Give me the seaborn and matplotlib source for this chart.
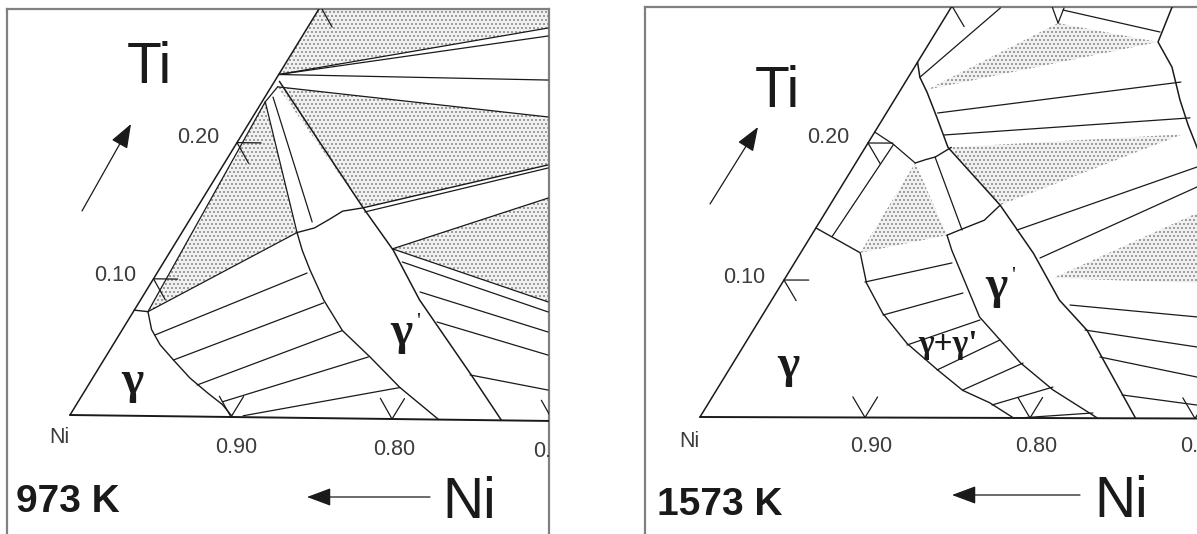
import numpy as np
import matplotlib
matplotlib.use("Agg")
import matplotlib.pyplot as plt
from matplotlib.transforms import Affine2D
from matplotlib.patches import Polygon
import seaborn as sns

sns.set_theme(style="white")
plt.rcParams["font.family"] = ["Liberation Sans", "DejaVu Sans"]
plt.rcParams["hatch.linewidth"] = 0.9
plt.rcParams["hatch.color"] = "#8a8a8a"

# ------------------------------------------------------------------
# DATA : compositions as (x_Al, x_Ti) mole fractions, x_Ni = 1 - x_Al - x_Ti
# ------------------------------------------------------------------
ni_ticks = [0.90, 0.80, 0.70]
ti_ticks = [0.10, 0.20, 0.30]
ni_tick_labels = ["0.90", "0.80", "0.70"]
ti_tick_labels = ["0.10", "0.20"]

# ---------- 973 K ----------
k973_gamma_al = [0.000, 0.009, 0.018, 0.029, 0.043, 0.060, 0.077, 0.090, 0.101]
k973_gamma_ti = [0.077, 0.076, 0.063, 0.052, 0.041, 0.028, 0.017, 0.009, 0.000]
k973_gp_left_al = [0.071, 0.081, 0.093, 0.113, 0.136, 0.163, 0.193, 0.229]
k973_gp_left_ti = [0.135, 0.122, 0.108, 0.086, 0.064, 0.045, 0.023, 0.000]
k973_gp_right_al = [0.003, 0.102, 0.137, 0.172, 0.232, 0.268]
k973_gp_right_ti = [0.245, 0.154, 0.123, 0.087, 0.033, 0.000]
k973_gp_top_al = [0.071, 0.080, 0.086, 0.091, 0.102, 0.200]
k973_gp_top_ti = [0.135, 0.1385, 0.145, 0.151, 0.1535, 0.1865]
k973_tie_lines = [
    ((0.009, 0.076), (0.071, 0.135)),
    ((0.022, 0.059), (0.0925, 0.1056)),
    ((0.043, 0.041), (0.114, 0.084)),
    ((0.067, 0.023), (0.136, 0.064)),
    ((0.089, 0.011), (0.162, 0.045)),
    ((0.107, 0.001), (0.193, 0.023)),
    ((0.009, 0.076), (0.002, 0.230)),
    ((0.002, 0.230), (0.071, 0.135)),
    ((0.005, 0.2335), (0.0763, 0.1429)),
    ((0.002, 0.230), (0.004, 0.241)),
    ((0.105, 0.1506), (0.2013, 0.1843)),
    ((0.000, 0.250), (0.1484, 0.2863)),
    ((0.000, 0.250), (0.1515, 0.2805)),
    ((0.000, 0.250), (0.1681, 0.2484)),
    ((0.004, 0.241), (0.182, 0.2215)),
    ((0.136, 0.124), (0.2127, 0.1624)),
    ((0.136, 0.124), (0.252, 0.0867)),
    ((0.147, 0.1145), (0.2558, 0.0794)),
    ((0.1693, 0.0928), (0.2633, 0.0648)),
    ((0.1911, 0.0711), (0.272, 0.048)),
    ((0.2315, 0.0328), (0.2853, 0.0225)),
]
k973_three_phase = [
    [(0.009, 0.076), (0.002, 0.230), (0.071, 0.135)],
    [(0.004, 0.241), (0.182, 0.2215), (0.200, 0.1865), (0.1024, 0.1535)],
    [(0.000, 0.250), (0.000, 0.330), (0.200, 0.330), (0.1484, 0.2863)],
    [(0.136, 0.124), (0.2127, 0.1624), (0.252, 0.0867)],
]

# ---------- 1573 K ----------
k1573_gamma_al = [0.000, 0.036, 0.051, 0.072, 0.098, 0.126, 0.149, 0.170, 0.190]
k1573_gamma_ti = [0.138, 0.120, 0.098, 0.076, 0.054, 0.035, 0.020, 0.011, 0.000]
k1573_gp_left_al = [0.082, 0.0905, 0.132, 0.174, 0.2035, 0.241]
k1573_gp_left_ti = [0.133, 0.122, 0.0735, 0.040, 0.0205, 0.000]
k1573_gp_right_al = [0.000, 0.007, 0.017, 0.032, 0.050, 0.103, 0.141, 0.174, 0.202, 0.264]
k1573_gp_right_ti = [0.259, 0.248, 0.237, 0.219, 0.197, 0.155, 0.120, 0.086, 0.064, 0.000]
k1573_upper_al = [0.036, 0.041, 0.046, 0.052]
k1573_upper_ti = [0.1855, 0.188, 0.190, 0.197]
k1573_lower_al = [0.082, 0.088, 0.099, 0.103]
k1573_lower_ti = [0.133, 0.137, 0.144, 0.155]
k1573_outer_al = [0.1335, 0.138, 0.1557, 0.1728, 0.187, 0.2053]
k1573_outer_ti = [0.2998, 0.2742, 0.256, 0.232, 0.2138, 0.192]
k1573_tie_lines = [
    ((0.0497, 0.0987), (0.0953, 0.1128)),
    ((0.0729, 0.0747), (0.1131, 0.0909)),
    ((0.0985, 0.0529), (0.1334, 0.0713)),
    ((0.126, 0.0348), (0.1529, 0.0568)),
    ((0.149, 0.0203), (0.1754, 0.040)),
    ((0.1722, 0.0094), (0.2024, 0.0226)),
    ((0.1936, 0.000), (0.2362, 0.0038)),
    ((0.013, 0.132), (0.016, 0.199)),
    ((0.000, 0.208), (0.016, 0.199)),
    ((0.016, 0.199), (0.036, 0.1855)),
    ((0.0457, 0.190), (0.0892, 0.1368)),
    ((0.007, 0.248), (0.030, 0.2987)),
    ((0.0705, 0.2878), (0.061, 0.2995)),
    ((0.0705, 0.2878), (0.0685, 0.2988)),
    ((0.0687, 0.2973), (0.1355, 0.2815)),
    ((0.031, 0.222), (0.1667, 0.2451)),
    ((0.043, 0.206), (0.1855, 0.219)),
    ((0.1224, 0.1369), (0.2079, 0.1832)),
    ((0.1467, 0.1166), (0.2154, 0.1687)),
    ((0.1823, 0.0824), (0.2636, 0.074)),
    ((0.2007, 0.0642), (0.2747, 0.0521)),
    ((0.2197, 0.0446), (0.2858, 0.0302)),
    ((0.2471, 0.017), (0.2962, 0.0098)),
]
k1573_three_phase = [
    [(0.036, 0.120), (0.036, 0.1855), (0.082, 0.133)],
    [(0.016, 0.239), (0.0705, 0.2878), (0.138, 0.2742)],
    [(0.051, 0.197), (0.187, 0.207), (0.103, 0.155)],
    [(0.162, 0.102), (0.225, 0.1497), (0.251, 0.0987)],
]


# ------------------------------------------------------------------
DPI = 96
S = 100.0 / DPI            # keeps sizes as if drawn at 100 dpi
W, H = 1197.0, 534.0
fig = plt.figure(figsize=(W / DPI, H / DPI), dpi=DPI)


def make_panel(x0, x1, y0, y1, right_spine):
    ax = fig.add_axes([x0 / W, 1 - y1 / H, (x1 - x0) / W, (y1 - y0) / H])
    ax.set_xlim(x0, x1)
    ax.set_ylim(y1, y0)
    ax.set_xticks([])
    ax.set_yticks([])
    ax.set_facecolor("white")
    for s in ["left", "top", "right", "bottom"]:
        ax.spines[s].set_visible(False)
    for s in ["left", "top"] + (["right"] if right_spine else []):
        ax.spines[s].set_visible(True)
        ax.spines[s].set_color("#808080")
        ax.spines[s].set_linewidth(1.6 * S)
    return ax


def ternary(ax, origin, a_vec, b_vec):
    m = np.array([[a_vec[0], b_vec[0], origin[0]],
                  [a_vec[1], b_vec[1], origin[1]],
                  [0.0, 0.0, 1.0]])
    return Affine2D(m) + ax.transData


def draw_panel(ax, tr, curves, ties, polys):
    for pts in polys:
        ax.add_patch(Polygon(pts, closed=True, transform=tr, facecolor="#f1f1f1",
                             edgecolor="#8a8a8a", lw=0, hatch="....", zorder=1))
    # triangle edges
    ax.plot([0, 0.34], [0, 0], transform=tr, color="k", lw=1.4 * S, zorder=3)
    ax.plot([0, 0], [0, 0.34], transform=tr, color="k", lw=1.1 * S, zorder=3)
    for al, ti, lw in curves:
        ax.plot(al, ti, transform=tr, color="k", lw=lw * S, zorder=3)
    for (p, q) in ties:
        ax.plot([p[0], q[0]], [p[1], q[1]], transform=tr, color="k", lw=0.9 * S, zorder=3)
    # ternary tick marks
    d = 0.015
    for t in ni_ticks:
        a = 1 - t
        ax.plot([a, a], [0, d], transform=tr, color="k", lw=0.9 * S, zorder=3)
        ax.plot([a, a - d], [0, d], transform=tr, color="k", lw=0.9 * S, zorder=3)
    for t in ti_ticks:
        ax.plot([0, d], [t, t], transform=tr, color="k", lw=0.9 * S, zorder=3)
        ax.plot([0, d], [t, t - d], transform=tr, color="k", lw=0.9 * S, zorder=3)


def arrow(ax, start, end):
    ax.annotate("", xy=end, xytext=start,
                arrowprops=dict(arrowstyle="-|>,head_length=0.75,head_width=0.28",
                                color="k", lw=0.9 * S, mutation_scale=20 * S,
                                shrinkA=0, shrinkB=0))


tick_kw = dict(fontsize=15.5 * S, color="#3c3c3c", clip_on=True)
big_kw = dict(fontsize=41 * S, color="k")
temp_kw = dict(fontsize=28 * S, color="k", fontweight="bold")
gam_kw = dict(fontsize=34 * S, color="k", fontweight="bold",
              family=["Liberation Serif", "DejaVu Serif"], ha="center", va="center")
prime_kw = dict(fontsize=16 * S, color="k", ha="center", va="center",
                family=["Liberation Serif"])

# ---------------- left panel: 973 K ----------------
axL = make_panel(7, 549, 9, 534, right_spine=True)
trL = ternary(axL, (70, 415), (1610, 20), (835, -1362))
draw_panel(
    axL, trL,
    [(k973_gamma_al, k973_gamma_ti, 1.0), (k973_gp_left_al, k973_gp_left_ti, 1.0),
     (k973_gp_right_al, k973_gp_right_ti, 1.1), (k973_gp_top_al, k973_gp_top_ti, 1.0)],
    k973_tie_lines, k973_three_phase)
axL.text(127, 83, "Ti", **big_kw)
axL.text(442, 518, "Ni", **big_kw)
axL.text(16, 512, "973 K", **temp_kw)
axL.text(177, 143, ti_tick_labels[1], **tick_kw)
axL.text(94, 281, ti_tick_labels[0], **tick_kw)
axL.text(49, 443, "Ni", **tick_kw)
axL.text(215, 453, ni_tick_labels[0], **tick_kw)
axL.text(373, 455, ni_tick_labels[1], **tick_kw)
axL.text(533, 457, ni_tick_labels[2], **tick_kw)
arrow(axL, (430, 497), (307, 497))
arrow(axL, (82, 211), (131, 124))
axL.text(132, 382, "γ", **gam_kw)
axL.text(401, 333, "γ", **gam_kw)
axL.text(418, 322, "'", **prime_kw)

# ---------------- right panel: 1573 K ----------------
axR = make_panel(645, 1197, 7, 534, right_spine=False)
trR = ternary(axR, (700, 417), (1650, 5), (840, -1370))
draw_panel(
    axR, trR,
    [(k1573_gamma_al, k1573_gamma_ti, 1.0), (k1573_gp_left_al, k1573_gp_left_ti, 1.0),
     (k1573_gp_right_al, k1573_gp_right_ti, 1.1), (k1573_upper_al, k1573_upper_ti, 1.0),
     (k1573_lower_al, k1573_lower_ti, 1.0), (k1573_outer_al, k1573_outer_ti, 1.1)],
    k1573_tie_lines, k1573_three_phase)
axR.text(755, 107, "Ti", **big_kw)
axR.text(1094, 517, "Ni", **big_kw)
axR.text(657, 515, "1573 K", **temp_kw)
axR.text(807, 143, ti_tick_labels[1], **tick_kw)
axR.text(723, 283, ti_tick_labels[0], **tick_kw)
axR.text(679, 447, "Ni", **tick_kw)
axR.text(850, 452, ni_tick_labels[0], **tick_kw)
axR.text(1015, 452, ni_tick_labels[1], **tick_kw)
axR.text(1180, 452, ni_tick_labels[2], **tick_kw)
arrow(axR, (1080, 495), (952, 495))
arrow(axR, (710, 204), (758, 127))
axR.text(788, 366, "γ", **gam_kw)
axR.text(996, 287, "γ", **gam_kw)
axR.text(1013, 276, "'", **prime_kw)
axR.text(948, 345, "γ+γ'", fontsize=24 * S, color="k", fontweight="bold",
         family=["Liberation Serif", "DejaVu Serif"], ha="center", va="center")

fig.savefig("out.png", dpi=DPI, facecolor="white")
